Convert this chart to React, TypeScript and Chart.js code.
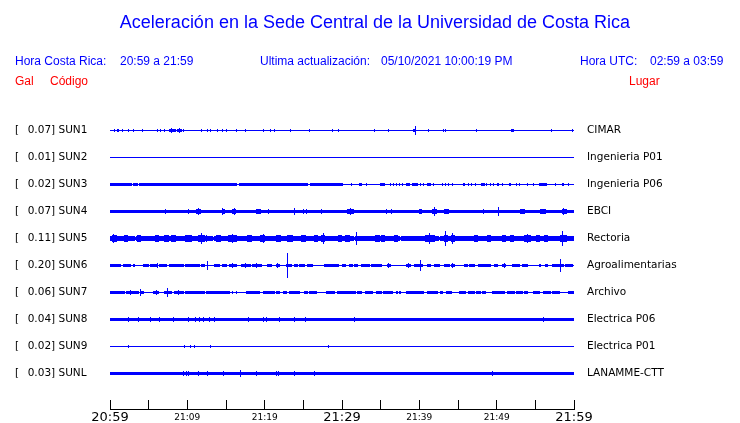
import React, { useEffect, useRef } from 'react';
import { Chart, registerables } from 'chart.js';

Chart.register(...registerables);

// ---------- data ----------
const TITLE = 'Aceleración en la Sede Central de la Universidad de Costa Rica';
const LOCAL_RANGE = '20:59 a 21:59';
const UTC_RANGE = '02:59 a 03:59';
const UPDATED = '05/10/2021 10:00:19 PM';

const CODES = ['SUN1', 'SUN2', 'SUN3', 'SUN4', 'SUN5', 'SUN6', 'SUN7', 'SUN8', 'SUN9', 'SUNL'];
const GAL = ['0.07', '0.01', '0.02', '0.07', '0.11', '0.20', '0.06', '0.04', '0.02', '0.03'];
const PLACES = ['CIMAR', 'Ingenieria P01', 'Ingenieria P06', 'EBCI', 'Rectoria', 'Agroalimentarias', 'Archivo', 'Electrica P06', 'Electrica P01', 'LANAMME-CTT'];

// minutes after 20:59
const TICK_MINUTES = [0, 5, 10, 15, 20, 25, 30, 35, 40, 45, 50, 55, 60];
const TICK_LABELS = ['20:59', '', '21:09', '', '21:19', '', '21:29', '', '21:39', '', '21:49', '', '21:59'];
const MAJOR_TICKS = ['20:59', '21:29', '21:59'];

// quiet (background) half-amplitude of each trace, relative units
const BASE_AMP = [0.5, 0.5, 0.5, 1.5, 1.5, 0.5, 0.5, 1.5, 0.5, 1.5];

// [startMin, endMin, halfAmp]
type Band = [number, number, number];
// [minute, halfAmp]
type Spike = [number, number];

const SUN1_BANDS: Band[] = [[0.95, 1.15, 1.5], [7.75, 8.45, 1.5], [8.7, 9.2, 1.5], [39.3, 39.55, 1.5], [51.9, 52.15, 1.5]];
const SUN1_SPIKES: Spike[] = [[0.56, 1.5], [1.6, 1.5], [2.37, 1.5], [3.0, 1.5], [4.17, 1.5], [6.1, 1.5], [6.5, 1.5], [7.0, 1.5], [7.9, 2.5], [9.0, 2.5], [9.46, 1.5], [11.8, 1.5], [12.56, 1.5], [12.95, 1.5], [13.85, 1.5], [14.6, 1.5], [15.1, 1.5], [16.3, 1.5], [17.5, 1.5], [19.9, 1.5], [20.8, 1.5], [21.3, 1.5], [23.3, 1.5], [25.85, 1.5], [28.8, 1.5], [29.5, 1.5], [34.2, 1.5], [36.0, 1.5], [39.5, 4.5], [41.2, 1.5], [43.1, 1.5], [43.4, 1.5], [47.4, 1.5], [57.1, 1.5], [59.8, 1.5]];

const SUN2_BANDS: Band[] = [];
const SUN2_SPIKES: Spike[] = [];

const SUN3_BANDS: Band[] = [[0.1, 2.8, 1.5], [3.0, 3.6, 1.5], [3.8, 5.2, 1.5], [5.4, 8.8, 1.5], [9.0, 15.7, 1.5], [15.9, 16.4, 1.5], [16.7, 19.4, 1.5], [19.6, 24.1, 1.5], [24.3, 25.5, 1.5], [25.9, 30.1, 1.5], [32.2, 32.5, 1.5], [35.0, 35.5, 1.5], [38.4, 38.7, 1.5], [39.1, 39.8, 1.5], [41.1, 41.4, 1.5], [45.7, 45.9, 1.5], [48.0, 48.4, 1.5], [50.1, 50.3, 1.5], [51.6, 51.8, 1.5], [55.5, 56.4, 1.5], [58.5, 58.7, 1.5]];
const SUN3_SPIKES: Spike[] = [[31.2, 1.5], [33.2, 1.5], [36.3, 1.5], [36.7, 1.5], [37.1, 1.5], [37.4, 1.5], [37.8, 1.5], [40.1, 1.5], [40.6, 1.5], [41.8, 1.5], [43.0, 1.5], [43.4, 1.5], [43.8, 1.5], [44.3, 1.5], [46.4, 1.5], [46.8, 1.5], [47.2, 1.5], [48.7, 1.5], [49.2, 1.5], [49.6, 1.5], [50.75, 1.5], [52.6, 1.5], [53.0, 1.5], [54.0, 1.5], [54.75, 1.5], [57.6, 1.5], [59.35, 1.5]];

const SUN4_BANDS: Band[] = [[11.2, 11.7, 2.5], [14.5, 14.8, 2.5], [15.9, 16.2, 2.5], [18.9, 19.4, 2.5], [30.7, 31.5, 2.5], [40.0, 40.3, 2.5], [41.7, 42.2, 2.5], [43.2, 43.8, 2.5], [53.1, 53.6, 2.5], [55.7, 56.3, 2.5], [58.5, 59.0, 2.5]];
const SUN4_SPIKES: Spike[] = [[7.2, 2.5], [10.1, 2.5], [11.45, 3.5], [14.6, 3.5], [16.05, 3.5], [20.5, 2.5], [23.8, 3.5], [25.0, 2.5], [25.45, 2.5], [27.3, 2.5], [31.05, 3.5], [35.8, 2.5], [36.4, 2.5], [41.9, 4.5], [48.3, 2.5], [50.2, 4.5], [58.7, 3.5]];

const SUN5_BANDS: Band[] = [[0, 3.2, 2.5], [3.4, 8.8, 2.5], [9.0, 13.3, 2.5], [13.5, 17.5, 2.5], [17.7, 21.0, 2.5], [21.2, 25.5, 2.5], [25.7, 31.5, 2.5], [31.7, 37.5, 2.5], [37.7, 42.5, 2.5], [42.7, 60, 2.5], [0.3, 0.9, 3.5], [1.9, 2.3, 3.5], [3.5, 3.9, 3.5], [5.9, 6.3, 3.5], [7.0, 7.6, 3.5], [8.0, 8.5, 3.5], [9.8, 10.5, 3.5], [11.5, 12.2, 3.5], [13.8, 14.3, 3.5], [15.3, 16.4, 3.5], [17.8, 18.3, 3.5], [19.5, 20.0, 3.5], [21.5, 22.0, 3.5], [23.0, 23.6, 3.5], [24.8, 25.3, 3.5], [26.4, 26.8, 3.5], [27.4, 27.8, 3.5], [29.6, 30.0, 3.5], [30.5, 31.0, 3.5], [34.3, 34.8, 3.5], [35.1, 35.5, 3.5], [36.8, 37.2, 3.5], [40.8, 42.0, 3.5], [43.2, 43.6, 3.5], [44.1, 44.6, 3.5], [47.1, 47.5, 3.5], [48.8, 49.2, 3.5], [50.8, 51.2, 3.5], [51.8, 52.2, 3.5], [53.6, 54.4, 3.5], [55.1, 55.5, 3.5], [56.2, 56.6, 3.5], [58.2, 59.0, 3.5]];
const SUN5_SPIKES: Spike[] = [[0.43, 4.5], [0.8, 3.5], [2.0, 3.5], [3.6, 3.5], [6.0, 3.5], [7.2, 3.5], [8.2, 3.5], [10.3, 3.5], [11.8, 5.5], [12.5, 3.5], [14.0, 3.5], [15.8, 4.5], [18.0, 3.5], [19.8, 4.5], [21.7, 3.5], [23.3, 3.5], [25.0, 3.5], [26.6, 3.5], [27.6, 5.5], [29.8, 3.5], [30.7, 3.5], [31.9, 6.5], [34.5, 3.5], [35.3, 3.5], [37.0, 3.5], [41.3, 5.5], [43.4, 7.5], [44.3, 5.5], [47.3, 3.5], [49.0, 3.5], [51.0, 3.5], [52.0, 3.5], [54.0, 4.5], [55.3, 3.5], [56.4, 3.5], [58.5, 7.5]];

const SUN6_BANDS: Band[] = [[0, 1.3, 1.5], [1.7, 2.6, 1.5], [3.0, 3.2, 1.5], [4.3, 5.0, 1.5], [5.3, 6.2, 1.5], [6.4, 7.3, 1.5], [7.75, 9.45, 1.5], [9.7, 11.6, 1.5], [11.8, 12.25, 1.5], [13.55, 14.2, 1.5], [14.6, 15.05, 1.5], [15.5, 16.35, 1.5], [17.0, 18.2, 1.5], [18.4, 19.6, 1.5], [20.4, 20.85, 1.5], [21.5, 21.9, 1.5], [22.8, 23.45, 1.5], [23.9, 24.3, 1.5], [24.5, 25.2, 1.5], [25.6, 26.2, 1.5], [27.7, 29.5, 1.5], [30.1, 30.5, 1.5], [31.0, 31.4, 1.5], [31.6, 32.0, 1.5], [32.5, 32.9, 1.5], [33.1, 33.5, 1.5], [33.8, 35.05, 1.5], [35.9, 36.3, 1.5], [38.3, 38.9, 1.5], [39.35, 40.4, 1.5], [41.1, 41.5, 1.5], [41.9, 42.6, 1.5], [43.2, 43.9, 1.5], [44.1, 44.5, 1.5], [45.8, 46.2, 1.5], [46.45, 47.1, 1.5], [47.7, 48.4, 1.5], [48.6, 49.25, 1.5], [49.7, 50.1, 1.5], [50.75, 51.2, 1.5], [52.0, 52.9, 1.5], [53.3, 54.0, 1.5], [55.5, 55.7, 1.5], [56.3, 56.6, 1.5], [57.2, 58.7, 1.5], [58.9, 59.8, 1.5]];
const SUN6_SPIKES: Spike[] = [[6.2, 2.5], [12.6, 4.5], [15.9, 2.5], [17.5, 2.5], [19.0, 2.5], [21.7, 2.5], [22.95, 12.5], [36.0, 2.5], [38.6, 2.5], [40.1, 5.5], [44.3, 2.5], [51.0, 2.5], [58.3, 6.5]];

const SUN7_BANDS: Band[] = [[0, 1.9, 1.5], [2.15, 3.65, 1.5], [3.9, 4.3, 1.5], [5.6, 6.25, 1.5], [7.1, 7.95, 1.5], [8.4, 9.45, 1.5], [9.7, 11.4, 1.5], [11.6, 12.25, 1.5], [12.5, 15.5, 1.5], [17.6, 19.35, 1.5], [19.8, 21.3, 1.5], [21.5, 21.9, 1.5], [22.4, 22.8, 1.5], [23.2, 24.5, 1.5], [25.2, 25.6, 1.5], [25.8, 26.7, 1.5], [27.95, 29.0, 1.5], [29.4, 31.8, 1.5], [32.0, 32.5, 1.5], [33.1, 34.0, 1.5], [34.4, 35.05, 1.5], [35.4, 36.55, 1.5], [37.0, 37.2, 1.5], [37.4, 37.6, 1.5], [38.3, 40.6, 1.5], [41.1, 41.9, 1.5], [42.15, 42.35, 1.5], [42.8, 43.0, 1.5], [43.45, 44.1, 1.5], [45.2, 46.0, 1.5], [46.4, 47.1, 1.5], [47.4, 47.9, 1.5], [48.2, 48.6, 1.5], [49.5, 50.1, 1.5], [50.3, 51.0, 1.5], [51.4, 52.3, 1.5], [52.6, 53.4, 1.5], [53.6, 54.0, 1.5], [54.75, 55.5, 1.5], [56.0, 56.9, 1.5], [57.2, 58.1, 1.5], [59.35, 60, 1.5]];
const SUN7_SPIKES: Spike[] = [[2.6, 2.5], [4.0, 3.5], [6.0, 2.5], [7.45, 4.5], [8.9, 2.5], [15.8, 1.5], [16.3, 1.5]];

const SUN8_BANDS: Band[] = [];
const SUN8_SPIKES: Spike[] = [[2.45, 2.5], [3.65, 2.5], [5.25, 2.5], [6.35, 2.5], [8.2, 2.5], [10.1, 2.5], [11.05, 2.5], [11.6, 2.5], [12.05, 2.5], [12.9, 2.5], [13.55, 2.5], [17.85, 2.5], [19.8, 2.5], [20.2, 2.5], [21.9, 2.5], [23.9, 2.5], [25.3, 2.5], [31.6, 2.5], [56.0, 2.5]];

const SUN9_BANDS: Band[] = [];
const SUN9_SPIKES: Spike[] = [[2.45, 1.5], [9.6, 1.5], [10.45, 1.5], [10.9, 1.5], [12.95, 1.5], [28.3, 1.5]];

const SUNL_BANDS: Band[] = [];
const SUNL_SPIKES: Spike[] = [[9.55, 2.5], [9.9, 2.5], [10.2, 2.5], [11.5, 2.5], [12.55, 2.5], [14.7, 2.5], [16.9, 3.5], [18.9, 2.5], [21.5, 2.5], [21.85, 2.5], [23.8, 2.5], [26.45, 2.5], [49.4, 2.5]];

const ALL_BANDS = [SUN1_BANDS, SUN2_BANDS, SUN3_BANDS, SUN4_BANDS, SUN5_BANDS, SUN6_BANDS, SUN7_BANDS, SUN8_BANDS, SUN9_BANDS, SUNL_BANDS];
const ALL_SPIKES = [SUN1_SPIKES, SUN2_SPIKES, SUN3_SPIKES, SUN4_SPIKES, SUN5_SPIKES, SUN6_SPIKES, SUN7_SPIKES, SUN8_SPIKES, SUN9_SPIKES, SUNL_SPIKES];

// ---------- rendering constants ----------
const DURATION = 60;
const BINS = 464;
const AMP_UNIT = 1 / 27; // relative amplitude -> trace-spacing units
const Y_MIN = -0.3148;
const Y_MAX = 11.0185;
const BLUE = '#0000ff';
const RED = '#ff0000';

function envelope(base: number, bands: Band[], spikes: Spike[]): number[] {
  const dt = DURATION / BINS;
  const amps = new Array(BINS).fill(base);
  bands.forEach(([t0, t1, a]) => {
    const k0 = Math.max(0, Math.floor(t0 / dt));
    const k1 = Math.min(BINS - 1, Math.max(k0, Math.ceil(t1 / dt) - 1));
    for (let k = k0; k <= k1; k++) amps[k] = Math.max(amps[k], a);
  });
  spikes.forEach(([t, a]) => {
    const k = Math.min(BINS - 1, Math.max(0, Math.floor(t / dt)));
    amps[k] = Math.max(amps[k], a);
  });
  return amps;
}

function buildDatasets() {
  const dt = DURATION / BINS;
  const sets: any[] = [];
  CODES.forEach((code, i) => {
    const level = CODES.length - i;
    const amps = envelope(BASE_AMP[i], ALL_BANDS[i], ALL_SPIKES[i]);
    const upper: { x: number; y: number }[] = [];
    const lower: { x: number; y: number }[] = [];
    amps.forEach((a, k) => {
      const h = a * AMP_UNIT;
      upper.push({ x: k * dt, y: level + h }, { x: (k + 1) * dt, y: level + h });
      lower.push({ x: k * dt, y: level - h }, { x: (k + 1) * dt, y: level - h });
    });
    const common = {
      parsing: false,
      normalized: true,
      pointRadius: 0,
      borderWidth: 0,
      borderColor: 'rgba(0,0,0,0)',
      tension: 0,
      yAxisID: 'y',
    };
    sets.push({ ...common, label: code + ' +', data: upper, fill: false });
    sets.push({ ...common, label: code + ' -', data: lower, fill: '-1', backgroundColor: BLUE });
  });
  return sets;
}

const LEVELS = CODES.map((_, i) => CODES.length - i);

function leftLabel(v: number): string {
  const i = CODES.length - Math.round(v);
  if (i < 0 || i >= CODES.length) return '';
  return '[\u2002 ' + GAL[i] + '] ' + CODES[i];
}
function rightLabel(v: number): string {
  const i = CODES.length - Math.round(v);
  if (i < 0 || i >= CODES.length) return '';
  return PLACES[i];
}

function SeismoChart() {
  const ref = useRef<HTMLCanvasElement | null>(null);
  useEffect(() => {
    if (!ref.current) return;
    const chart = new Chart(ref.current, {
      type: 'line',
      data: { datasets: buildDatasets() },
      options: {
        responsive: false,
        animation: false,
        events: [],
        layout: { padding: { left: 15, top: 103, right: 0, bottom: 0 } },
        plugins: {
          legend: { display: false },
          tooltip: { enabled: false },
          title: { display: false },
        },
        scales: {
          x: {
            type: 'linear',
            min: 0,
            max: DURATION,
            afterFit: (s: any) => { s.height = 14; },
            afterBuildTicks: (s: any) => { s.ticks = TICK_MINUTES.map((v) => ({ value: v })); },
            grid: { drawOnChartArea: false, drawTicks: true, tickLength: -9, color: '#000', lineWidth: 1 },
            border: { display: true, color: '#000', width: 1 },
            ticks: {
              autoSkip: false,
              maxRotation: 0,
              minRotation: 0,
              padding: 10,
              color: '#000',
              font: (ctx: any) => {
                const lbl = TICK_LABELS[ctx.index] || '';
                return MAJOR_TICKS.includes(lbl)
                  ? { family: 'DejaVu Sans', size: 13, lineHeight: 1.2 }
                  : { family: 'DejaVu Sans', size: 9, lineHeight: 15.6 / 9 };
              },
              callback: (_v: any, idx: number) => TICK_LABELS[idx] || '',
            },
          },
          y: {
            type: 'linear',
            position: 'left',
            min: Y_MIN,
            max: Y_MAX,
            afterFit: (s: any) => { s.width = 95; },
            afterBuildTicks: (s: any) => { s.ticks = LEVELS.map((v) => ({ value: v })); },
            grid: { display: false, drawTicks: false },
            border: { display: false },
            ticks: {
              autoSkip: false,
              crossAlign: 'far',
              color: '#000',
              font: { family: 'DejaVu Sans', size: 10.5 },
              callback: (v: any) => leftLabel(Number(v)),
            },
          },
          y2: {
            type: 'linear',
            position: 'right',
            min: Y_MIN,
            max: Y_MAX,
            afterFit: (s: any) => { s.width = 166; },
            afterBuildTicks: (s: any) => { s.ticks = LEVELS.map((v) => ({ value: v })); },
            grid: { display: false, drawTicks: true, tickLength: 13 },
            border: { display: false },
            ticks: {
              autoSkip: false,
              padding: 0,
              color: '#000',
              font: { family: 'DejaVu Sans', size: 10.5 },
              callback: (v: any) => rightLabel(Number(v)),
            },
          },
        },
      } as any,
    });
    return () => chart.destroy();
  }, []);
  return <canvas ref={ref} width={740} height={423} style={{ display: 'block', width: 740, height: 423 }} />;
}

const txt = (color: string, size: number): React.CSSProperties => ({
  position: 'absolute',
  color,
  fontFamily: '"Liberation Sans", Arial, sans-serif',
  fontSize: size,
  whiteSpace: 'pre',
  margin: 0,
});

export default function App() {
  return (
    <div style={{ position: 'fixed', left: 0, top: 0, width: 740, height: 423, background: '#fff', overflow: 'hidden' }}>
      <SeismoChart />
      <div style={{ ...txt(BLUE, 18), left: 0, width: 750, textAlign: 'center', top: 11, lineHeight: '22px' }}>{TITLE}</div>
      <div style={{ ...txt(BLUE, 12), left: 15, top: 54, lineHeight: '14px' }}>Hora Costa Rica:</div>
      <div style={{ ...txt(BLUE, 12), left: 120, top: 54, lineHeight: '14px' }}>{LOCAL_RANGE}</div>
      <div style={{ ...txt(BLUE, 12), left: 260, top: 54, lineHeight: '14px' }}>Ultima actualización:</div>
      <div style={{ ...txt(BLUE, 12), left: 381, top: 54, lineHeight: '14px' }}>{UPDATED}</div>
      <div style={{ ...txt(BLUE, 12), left: 580, top: 54, lineHeight: '14px' }}>Hora UTC:</div>
      <div style={{ ...txt(BLUE, 12), left: 650, top: 54, lineHeight: '14px' }}>{UTC_RANGE}</div>
      <div style={{ ...txt(RED, 12), left: 15, top: 74, lineHeight: '14px' }}>Gal</div>
      <div style={{ ...txt(RED, 12), left: 50, top: 74, lineHeight: '14px' }}>Código</div>
      <div style={{ ...txt(RED, 12), left: 629, top: 74, lineHeight: '14px' }}>Lugar</div>
    </div>
  );
}
